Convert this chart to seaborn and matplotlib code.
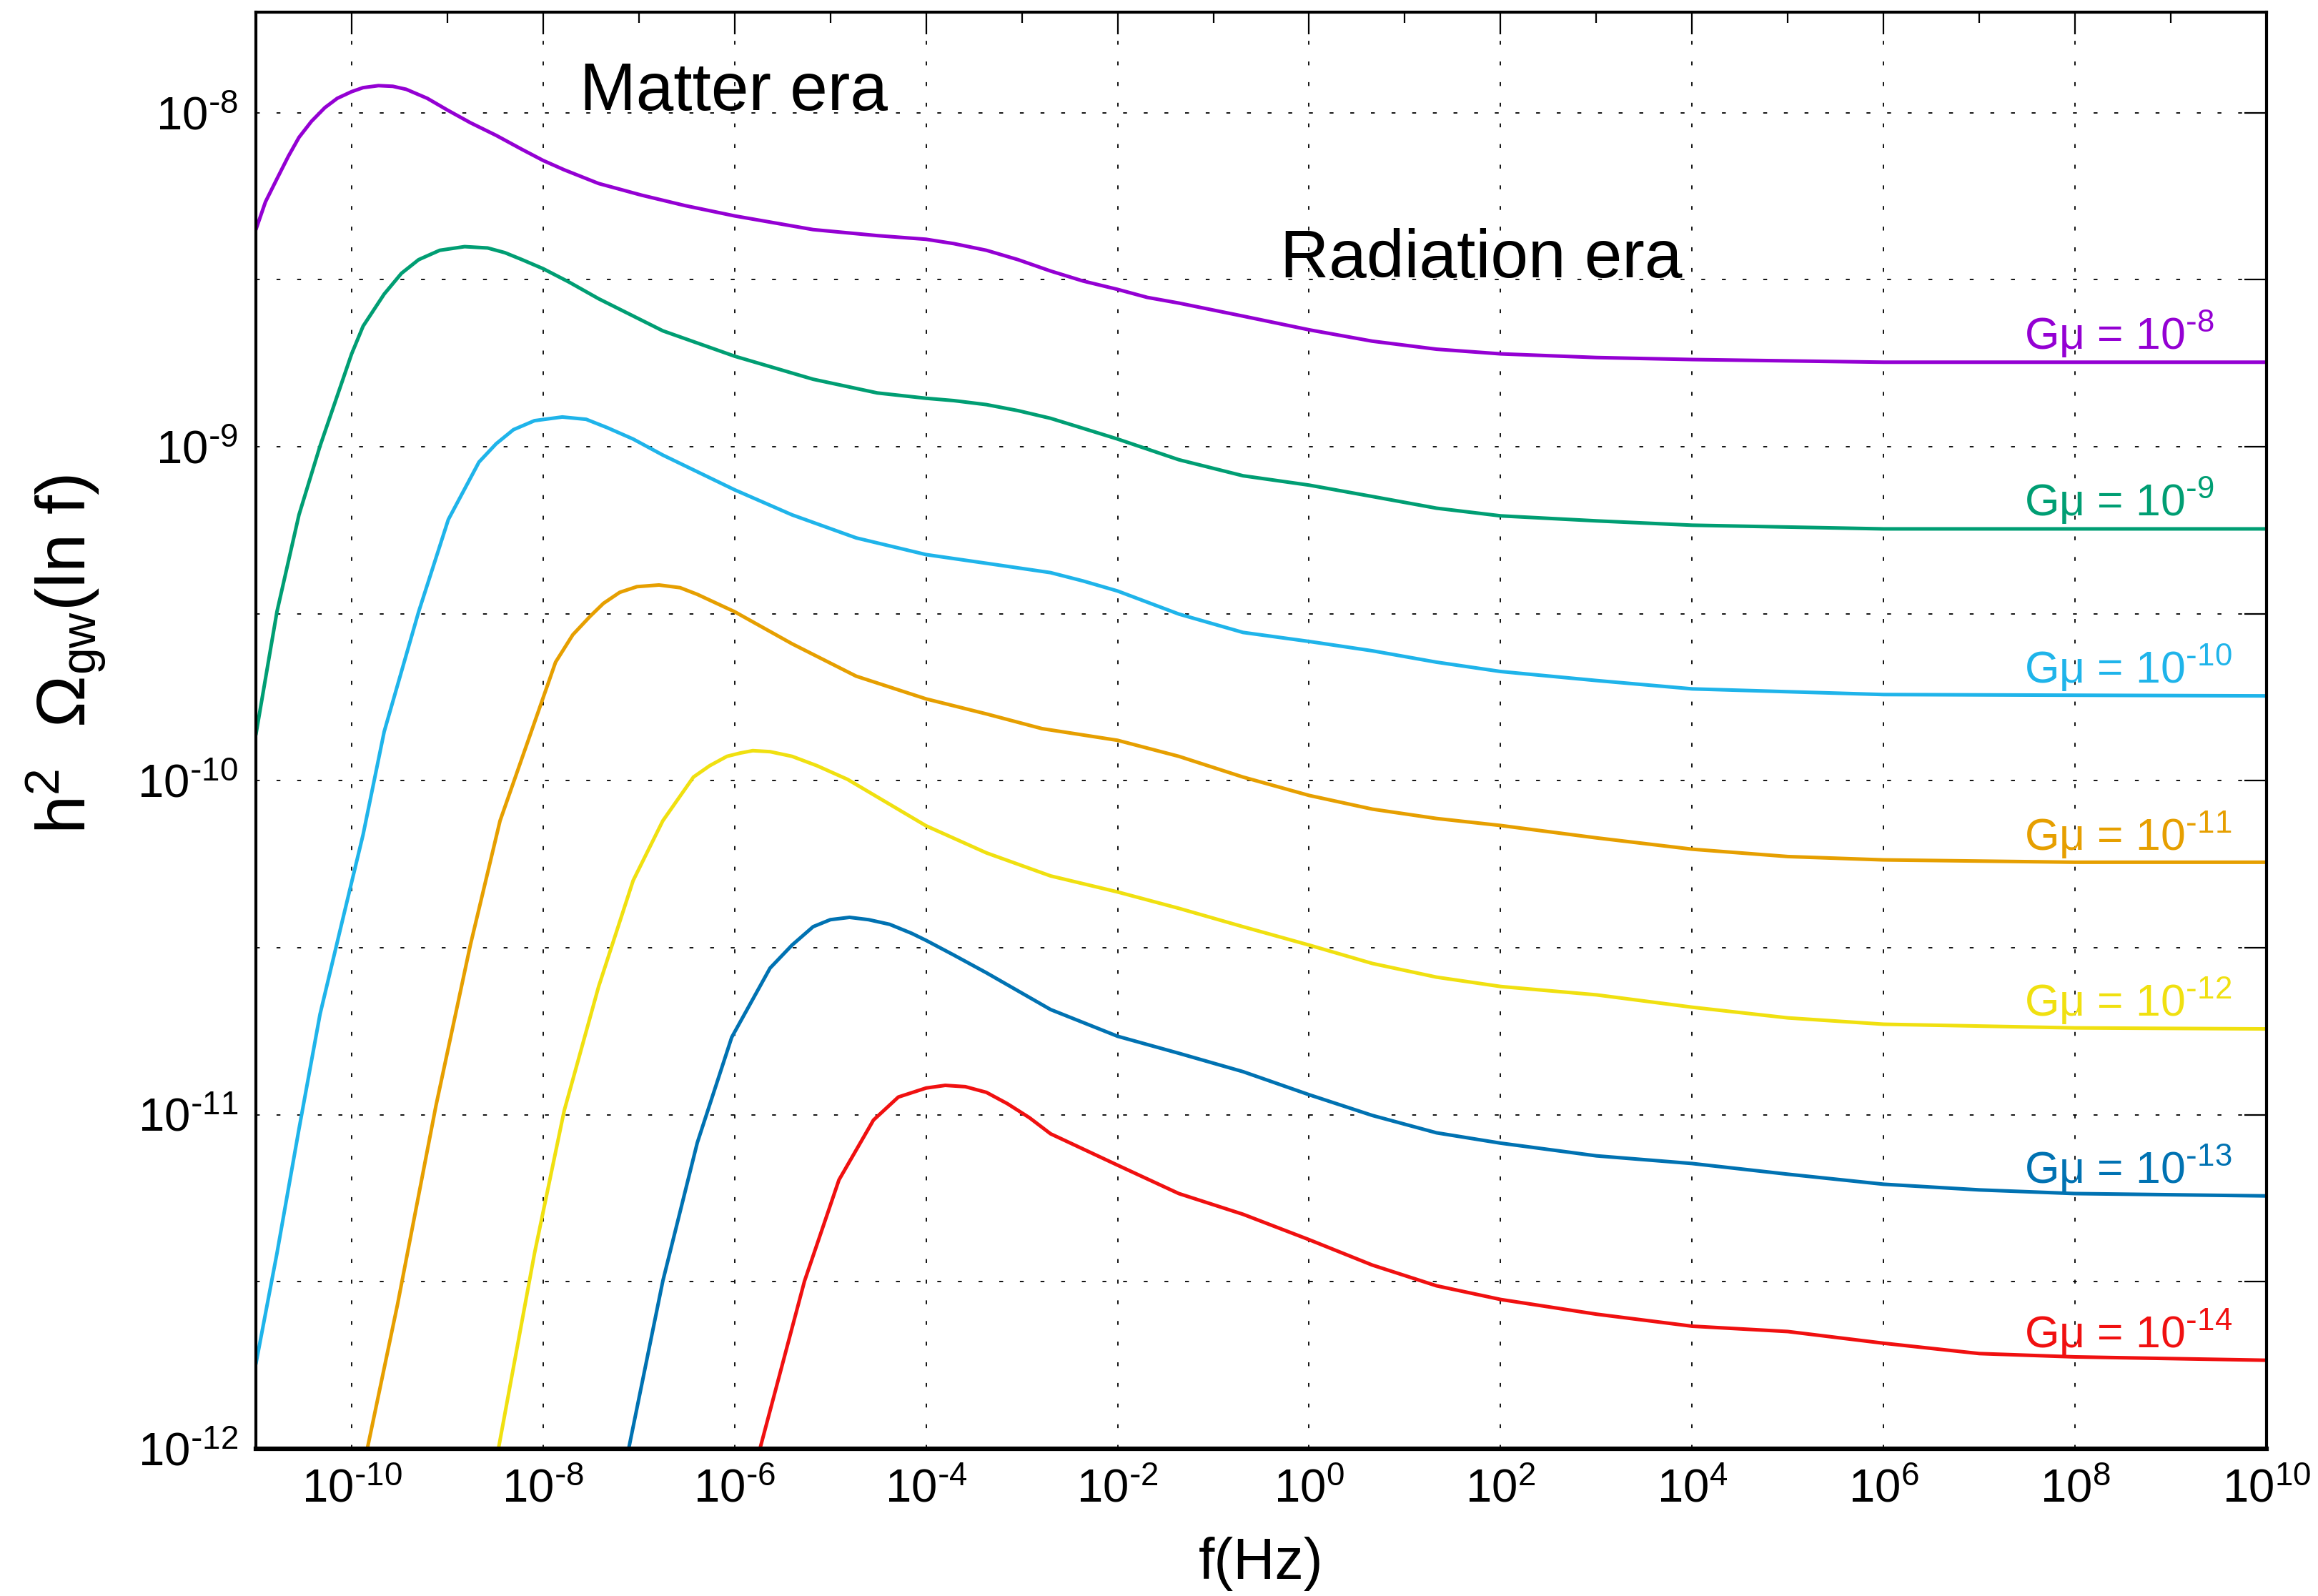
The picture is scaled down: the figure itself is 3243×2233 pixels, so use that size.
import numpy as np
import pandas as pd
import seaborn as sns
import matplotlib
matplotlib.use("Agg")
import matplotlib.pyplot as plt
from matplotlib.ticker import FixedLocator, FuncFormatter, NullFormatter

# ---------------- data (log10 values) ----------------
series_names = ["-8", "-9", "-10", "-11", "-12", "-13", "-14"]

logf_m8 = [-11.0, -10.9, -10.78, -10.66, -10.55, -10.42, -10.28, -10.15, -10.0, -9.88, -9.72, -9.57,
           -9.43, -9.21, -9.0, -8.76, -8.49, -8.22, -8.0, -7.78, -7.42, -6.97, -6.52, -6.0, -5.18, -4.51,
           -4.0, -3.71, -3.37, -3.04, -2.70, -2.36, -2.0, -1.69, -1.36, -0.69, 0.0, 0.66, 1.33, 2.0,
           3.0, 4.0, 6.0, 10.0]
logO_m8 = [-8.35, -8.267, -8.198, -8.13, -8.074, -8.026, -7.985, -7.957, -7.937, -7.925, -7.919, -7.921,
           -7.93, -7.957, -7.992, -8.03, -8.068, -8.11, -8.143, -8.171, -8.212, -8.247, -8.278, -8.309,
           -8.35, -8.368, -8.379, -8.392, -8.412, -8.44, -8.474, -8.504, -8.529, -8.553, -8.57, -8.609,
           -8.65, -8.684, -8.708, -8.722, -8.733, -8.739, -8.747, -8.747]

logf_m9 = [-11.0, -10.78, -10.55, -10.33, -10.0, -9.88, -9.66, -9.48, -9.3, -9.08, -8.82, -8.58, -8.4,
           -8.22, -8.0, -7.73, -7.42, -6.75, -6.0, -5.18, -4.51, -4.0, -3.71, -3.37, -3.04, -2.70, -2.36,
           -2.0, -1.36, -0.69, 0.0, 0.66, 1.33, 2.0, 3.0, 4.0, 6.0, 10.0]
logO_m9 = [-9.862, -9.494, -9.204, -8.998, -8.722, -8.639, -8.543, -8.481, -8.44, -8.412, -8.401, -8.405,
           -8.419, -8.44, -8.467, -8.507, -8.557, -8.653, -8.729, -8.798, -8.839, -8.855, -8.862, -8.874,
           -8.892, -8.915, -8.945, -8.977, -9.039, -9.087, -9.115, -9.149, -9.184, -9.207, -9.222,
           -9.235, -9.246, -9.246]

logf_m10 = [-11.0, -10.78, -10.55, -10.33, -10.1, -9.88, -9.66, -9.3, -8.99, -8.67, -8.49, -8.31, -8.09,
            -7.8, -7.55, -7.33, -7.06, -6.75, -6.0, -5.4, -4.73, -4.0, -3.37, -2.70, -2.36, -2.0, -1.36,
            -0.69, 0.0, 0.66, 1.33, 2.0, 3.0, 4.0, 6.0, 10.0]
logO_m10 = [-11.746, -11.415, -11.043, -10.699, -10.423, -10.161, -9.853, -9.494, -9.218, -9.046, -8.991,
            -8.949, -8.922, -8.911, -8.918, -8.943, -8.977, -9.025, -9.129, -9.204, -9.273, -9.323,
            -9.349, -9.377, -9.402, -9.432, -9.501, -9.556, -9.583, -9.611, -9.645, -9.673, -9.70,
            -9.725, -9.742, -9.746]

logf_m11 = [-9.84, -9.52, -9.12, -8.76, -8.45, -8.12, -7.87, -7.69, -7.51, -7.37, -7.2, -7.02, -6.79,
            -6.57, -6.39, -6.21, -6.0, -5.4, -4.73, -4.0, -3.37, -2.79, -2.0, -1.36, -0.69, 0.0, 0.66,
            1.33, 2.0, 3.0, 4.0, 5.0, 6.0, 8.0, 10.0]
logO_m11 = [-12.005, -11.567, -10.974, -10.492, -10.12, -9.85, -9.645, -9.563, -9.508, -9.469, -9.436,
            -9.419, -9.414, -9.422, -9.442, -9.466, -9.494, -9.59, -9.687, -9.755, -9.80, -9.844, -9.879,
            -9.927, -9.989, -10.044, -10.085, -10.113, -10.134, -10.171, -10.205, -10.227, -10.237,
            -10.244, -10.244]

logf_m12 = [-8.47, -8.09, -7.78, -7.42, -7.06, -6.75, -6.43, -6.26, -6.08, -5.94, -5.81, -5.63, -5.4,
            -5.14, -4.82, -4.0, -3.37, -2.70, -2.0, -1.36, -0.69, 0.0, 0.66, 1.33, 2.0, 3.0, 4.0, 5.0,
            6.0, 8.0, 10.0]
logO_m12 = [-12.005, -11.415, -10.988, -10.616, -10.299, -10.12, -9.989, -9.955, -9.927, -9.917, -9.91,
            -9.913, -9.927, -9.955, -9.996, -10.135, -10.216, -10.285, -10.333, -10.382, -10.437,
            -10.492, -10.547, -10.588, -10.616, -10.641, -10.678, -10.71, -10.729, -10.74, -10.743]

logf_m13 = [-7.11, -6.75, -6.39, -6.03, -5.63, -5.4, -5.18, -5.0, -4.8, -4.6, -4.38, -4.15, -4.0, -3.71,
            -3.37, -2.70, -2.0, -1.36, -0.69, 0.0, 0.66, 1.33, 2.0, 3.0, 4.0, 5.0, 6.0, 7.0, 8.0, 10.0]
logO_m13 = [-12.005, -11.498, -11.084, -10.768, -10.561, -10.492, -10.437, -10.416, -10.409, -10.416,
            -10.43, -10.457, -10.478, -10.522, -10.575, -10.685, -10.765, -10.816, -10.871, -10.94,
            -11.002, -11.054, -11.085, -11.123, -11.146, -11.178, -11.208, -11.225, -11.236, -11.243]

logf_m14 = [-5.74, -5.27, -4.91, -4.55, -4.29, -4.0, -3.8, -3.59, -3.37, -3.15, -2.92, -2.70, -2.0, -1.36,
            -0.69, 0.0, 0.66, 1.33, 2.0, 3.0, 4.0, 5.0, 6.0, 7.0, 8.0, 10.0]
logO_m14 = [-12.005, -11.498, -11.195, -11.016, -10.947, -10.92, -10.912, -10.916, -10.933, -10.967,
            -11.009, -11.057, -11.151, -11.236, -11.298, -11.374, -11.45, -11.512, -11.553, -11.597,
            -11.633, -11.649, -11.684, -11.715, -11.725, -11.735]

all_logf = [logf_m8, logf_m9, logf_m10, logf_m11, logf_m12, logf_m13, logf_m14]
all_logO = [logO_m8, logO_m9, logO_m10, logO_m11, logO_m12, logO_m13, logO_m14]

colors = ["#9400d3", "#009e73", "#1fb4ea", "#e69f00", "#f0e010", "#0072b2", "#f01010"]

x_major_exp = list(range(-10, 11, 2))
x_minor_exp = list(range(-9, 10, 2))
y_tick_exp = [k / 2 for k in range(-24, -15)]

# ---------------- build table ----------------
frames = []
for name, lf, lo in zip(series_names, all_logf, all_logO):
    frames.append(pd.DataFrame({"f": np.power(10.0, lf), "omega": np.power(10.0, lo), "series": name}))
df = pd.concat(frames, ignore_index=True)

# ---------------- style ----------------
sns.set_style("white")
plt.rcParams["font.family"] = ["Liberation Sans", "DejaVu Sans"]
plt.rcParams["mathtext.default"] = "regular"
plt.rcParams["text.color"] = "black"
plt.rcParams["axes.labelcolor"] = "black"
plt.rcParams["xtick.color"] = "black"
plt.rcParams["ytick.color"] = "black"


def sup_exp(e):
    e = int(e)
    if e < 0:
        return r"$10^{\text{-}%d}$" % (-e)
    return r"$10^{%d}$" % e


fig = plt.figure(figsize=(32.43, 22.33), dpi=100)
ax = fig.add_axes([0.11039, 0.09225, 0.86741, 0.90014])
ax.set_xscale("log")
ax.set_yscale("log")

sns.lineplot(data=df, x="f", y="omega", hue="series", hue_order=series_names,
             palette=colors, sort=False, estimator=None, linewidth=3.6, legend=False, ax=ax)

ax.set_xlim(1e-11, 1e10)
ax.set_ylim(1e-12, 2e-8)

# ticks
ax.xaxis.set_major_locator(FixedLocator([10.0 ** k for k in x_major_exp]))
ax.xaxis.set_minor_locator(FixedLocator([10.0 ** k for k in x_minor_exp]))
ax.xaxis.set_major_formatter(FuncFormatter(lambda v, p: sup_exp(round(np.log10(v)))))
ax.xaxis.set_minor_formatter(NullFormatter())


def yfmt(v, p):
    e = np.log10(v)
    if abs(e - round(e)) < 1e-6:
        return sup_exp(round(e))
    return ""


ax.yaxis.set_major_locator(FixedLocator([10.0 ** k for k in y_tick_exp]))
ax.yaxis.set_minor_locator(FixedLocator([]))
ax.yaxis.set_major_formatter(FuncFormatter(yfmt))

ax.tick_params(which="both", direction="in", top=True, right=True, colors="black")
ax.tick_params(which="major", length=22, width=1.6, labelsize=47)
ax.tick_params(axis="x", which="major", pad=20)
ax.tick_params(axis="y", which="major", pad=18)
ax.tick_params(which="minor", length=11, width=1.6)

ax.grid(True, which="major", color="black", linestyle=(0, (3, 13)), linewidth=1.3)

for side in ["left", "right", "top"]:
    ax.spines[side].set_linewidth(3.0)
    ax.spines[side].set_color("black")
ax.spines["bottom"].set_linewidth(4.5)
ax.spines["bottom"].set_color("black")

ax.set_xlabel("f(Hz)", fontsize=58)
ax.xaxis.set_label_coords(0.5, -0.08)
ax.xaxis.label.set_va("center")
ax.set_ylabel(r"h$^{2}$  $\Omega_{gw}$(ln f)", fontsize=70)
ax.yaxis.set_label_coords(-0.094, 0.553)
ax.yaxis.label.set_va("center")

# annotations
ax.text(10 ** -7.62, 10 ** -7.993, "Matter era", fontsize=68, ha="left", va="baseline")
ax.text(10 ** -0.30, 10 ** -8.493, "Radiation era", fontsize=68, ha="left", va="baseline")

for name, lo, c in zip(series_names, all_logO, colors):
    ax.text(10 ** 7.47, 10 ** (lo[-1] + 0.038), "G\u03bc = " + sup_exp(int(name)),
            fontsize=45, color=c, ha="left", va="baseline")

fig.savefig("out.png", dpi=100, facecolor="white")
